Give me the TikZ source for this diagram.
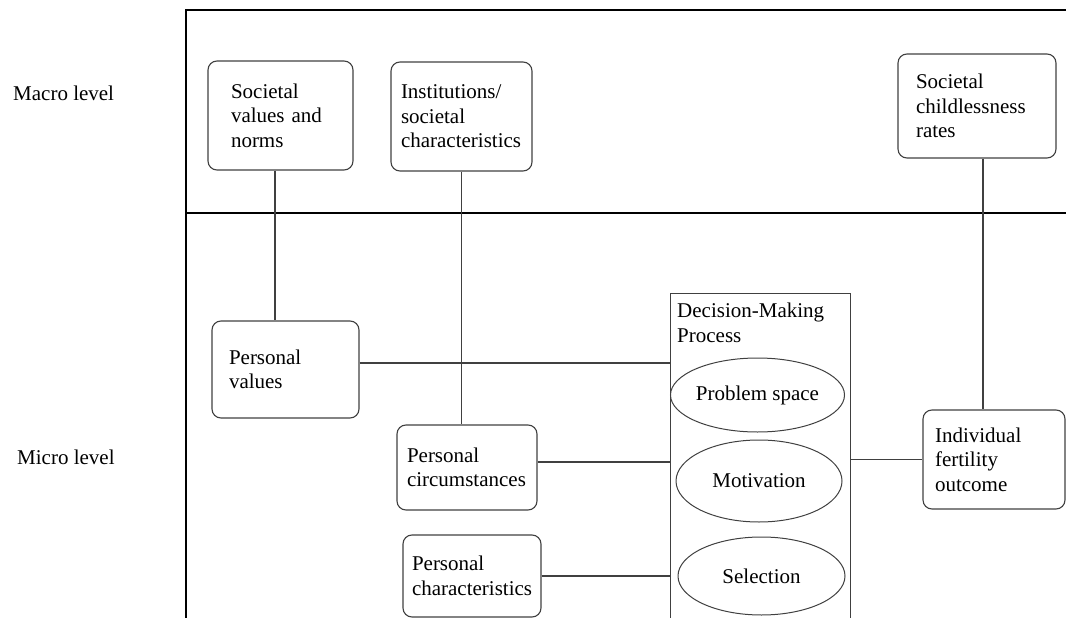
\documentclass[tikz,border=0pt]{standalone}
\usepackage{fontspec}
\setmainfont{Liberation Serif}
\usetikzlibrary{shapes.geometric}

\begin{document}
\begin{tikzpicture}[x=1pt, y=-1pt,
  box/.style={draw=black!75, line width=1.1pt, rounded corners=9pt, align=left, inner ysep=0pt},
  oval/.style={draw=black!75, line width=1pt, ellipse, inner sep=0pt},
  link/.style={draw=black!75, line width=1.1pt},
  frame/.style={line width=2.2pt},
  every node/.style={font=\fontsize{21}{24.5}\selectfont}]
\useasboundingbox (0, 0) rectangle (1066, 618);
\clip (0, 0) rectangle (1066, 618);
% levels
\draw [frame] (1070, 10) -| (186, 625);
\draw [frame] (186, 213) -- (1070, 213);
\node [anchor=base west, inner sep=0pt] (macro) at (13, 100) {Macro level};
\node [anchor=base west, inner sep=0pt] (micro) at (17, 464) {Micro level};
% macro boxes
\node [box, text width=99pt, inner xsep=23pt, minimum height=109pt] (sv) at (280.5, 115.5) {Societal\\values and\\norms};
\node [box, text width=121pt, inner xsep=10pt, minimum height=109pt] (inst) at (461.5, 116.5) {Institutions/\\societal\\characteristics};
\node [box, text width=122pt, inner xsep=18pt, minimum height=104pt] (rates) at (977, 106) {Societal\\childlessness\\rates};
% micro boxes
\node [box, text width=113pt, inner xsep=17pt, minimum height=97pt] (pval) at (285.5, 369.5) {Personal\\values};
\node [box, text width=120pt, inner xsep=10pt, minimum height=85pt] (pcirc) at (467, 467.5) {Personal\\circumstances};
\node [box, text width=120pt, inner xsep=9pt, minimum height=82pt] (pchar) at (472, 576) {Personal\\characteristics};
\node [box, text width=118pt, inner xsep=12pt, minimum height=99pt] (outcome) at (994, 459.5) {Individual\\fertility\\outcome};
% decision making
\node [draw=black!75, line width=1.1pt, minimum width=180pt, minimum height=340pt, anchor=north west, inner sep=0pt] (dmp) at (670, 293) {};
\node [anchor=north west, align=left, inner sep=0pt] (dmptitle) at (677, 303) {Decision-Making\\Process};
\node [oval, minimum width=157pt, minimum height=74pt] (space) at (757.5, 395) {Problem space};
\node [oval, minimum width=166pt, minimum height=82pt] (motiv) at (759, 481) {Motivation};
\node [oval, minimum width=167pt, minimum height=78pt] (select) at (761.5, 576) {Selection};
% connectors
\coordinate (valx) at (275, 0);
\coordinate (ratex) at (983, 0);
\coordinate (pvaly) at (0, 363);
\coordinate (pcircy) at (0, 462);
\draw [link] (sv.south -| valx) -- (pval.north -| valx);
\draw [link] (inst.south) -- (inst.south |- pcirc.north);
\draw [link] (rates.south -| ratex) -- (outcome.north -| ratex);
\draw [link] (pval.east |- pvaly) -- (dmp.west |- pvaly);
\draw [link] (pcirc.east |- pcircy) -- (dmp.west |- pcircy);
\draw [link] (pchar.east) -- (pchar.east -| dmp.west);
\draw [link] (dmp.east |- outcome.west) -- (outcome.west);
\end{tikzpicture}
\end{document}
